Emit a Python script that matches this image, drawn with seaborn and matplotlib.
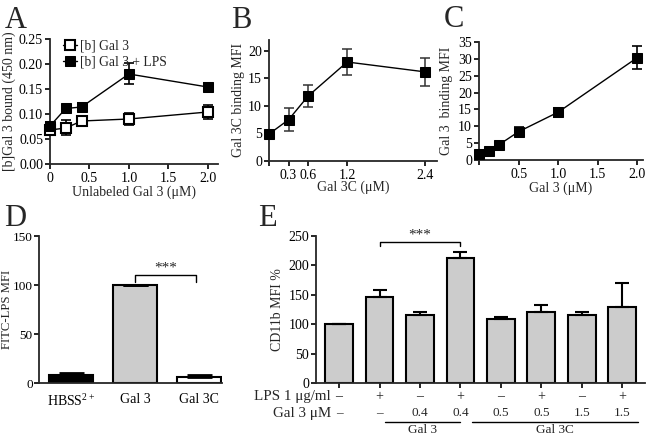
import numpy as np
import pandas as pd
import matplotlib
matplotlib.use("Agg")
import matplotlib.pyplot as plt
import seaborn as sns

# ---------------- data ----------------
a_x = [0.0, 0.2, 0.4, 1.0, 2.0]
a_gal3 = [0.068, 0.072, 0.086, 0.090, 0.104]
a_gal3_err = [0.005, 0.015, 0.005, 0.012, 0.014]
a_gal3_lps = [0.076, 0.111, 0.114, 0.180, 0.154]
a_gal3_lps_err = [0.008, 0.004, 0.008, 0.021, 0.007]

b_x = [0.0, 0.3, 0.6, 1.2, 2.4]
b_y = [4.9, 7.5, 11.8, 18.0, 16.2]
b_err = [0.3, 2.1, 2.0, 2.4, 2.5]

c_x = [0.0, 0.125, 0.25, 0.5, 1.0, 2.0]
c_y = [1.8, 2.6, 4.5, 8.4, 14.2, 30.4]
c_err = [0.5, 1.0, 0.8, 1.3, 1.3, 3.3]

d_cats = ["HBSS$^{2+}$", "Gal 3", "Gal 3C"]
d_vals = [8.5, 100.0, 6.5]
d_err = [1.5, 0.5, 2.0]
d_colors = ["black", "#cccccc", "white"]

e_vals = [100, 147, 115, 213, 108, 120, 115, 129]
e_err = [0, 12, 5, 10, 4, 13, 5, 41]
e_lps = ["–", "+", "–", "+", "–", "+", "–", "+"]
e_gal = ["–", "–", "0.4", "0.4", "0.5", "0.5", "1.5", "1.5"]

# ---------------- style ----------------
sns.set_style("ticks")
plt.rcParams["font.family"] = ["Liberation Serif", "DejaVu Serif"]
plt.rcParams["mathtext.fontset"] = "custom"
plt.rcParams["mathtext.rm"] = "Liberation Serif"
plt.rcParams["mathtext.it"] = "Liberation Serif:italic"
plt.rcParams["axes.linewidth"] = 1.3
plt.rcParams["xtick.major.width"] = 1.2
plt.rcParams["ytick.major.width"] = 1.2
plt.rcParams["xtick.major.size"] = 3.5
plt.rcParams["ytick.major.size"] = 3.5
plt.rcParams["xtick.labelsize"] = 10
plt.rcParams["ytick.labelsize"] = 10
plt.rcParams["axes.labelsize"] = 10
plt.rcParams["xtick.major.pad"] = 2
plt.rcParams["ytick.major.pad"] = 1.5

W, H = 649, 436
fig = plt.figure(figsize=(W / 100, H / 100), dpi=100)


def add_ax(l, r, t, b):
    return fig.add_axes([l / W, 1 - b / H, (r - l) / W, (b - t) / H])


def clean(ax):
    sns.despine(ax=ax)
    ax.tick_params(colors="black", direction="out")


def letter(x, y, s):
    fig.text(x / W, 1 - y / H, s, fontsize=22, va="baseline", ha="left")


# ---------------- Panel A ----------------
axA = add_ax(50, 218, 39, 164)
dfA = pd.DataFrame({"x": a_x * 2,
                    "y": a_gal3 + a_gal3_lps,
                    "s": ["[b] Gal 3"] * 5 + ["[b] Gal 3 + LPS"] * 5})
sns.lineplot(data=dfA[dfA.s == "[b] Gal 3"], x="x", y="y", ax=axA, color="black",
             marker="s", markersize=6.5, markerfacecolor="white", markeredgecolor="black",
             markeredgewidth=1.5, lw=1, label="[b] Gal 3", clip_on=False, zorder=3)
sns.lineplot(data=dfA[dfA.s == "[b] Gal 3 + LPS"], x="x", y="y", ax=axA, color="black",
             marker="s", markersize=6.5, markerfacecolor="black", markeredgecolor="black",
             lw=1, label="[b] Gal 3 + LPS", clip_on=False, zorder=3)
axA.errorbar(a_x, a_gal3, yerr=a_gal3_err, fmt="none", ecolor="black", elinewidth=1.2,
             capsize=3.5, capthick=1.2, clip_on=False)
axA.errorbar(a_x, a_gal3_lps, yerr=a_gal3_lps_err, fmt="none", ecolor="black",
             elinewidth=1.2, capsize=3.5, capthick=1.2, clip_on=False)
axA.set_xlim(0, 2.13)
axA.set_ylim(0, 0.25)
axA.set_xticks([0, 0.5, 1.0, 1.5, 2.0])
axA.set_xticklabels(["0", "0.5", "1.0", "1.5", "2.0"])
axA.set_yticks(np.arange(0, 0.26, 0.05))
axA.set_yticklabels([f"{v:.2f}" for v in np.arange(0, 0.26, 0.05)])
axA.set_xlabel("Unlabeled Gal 3 (μM)")
axA.set_ylabel("[b]Gal 3 bound (450 nm)")
axA.xaxis.set_label_coords(0.5, -0.17)
axA.xaxis.label.set_va("top")
axA.yaxis.set_label_coords(-0.205, 0.5)
leg = axA.legend(loc="upper left", bbox_to_anchor=(0.03, 1.06), frameon=False,
                 handlelength=1.0, handletextpad=0.2, borderpad=0.1, labelspacing=0.2,
                 fontsize=9.8)
clean(axA)
letter(5, 28, "A")

# ---------------- Panel B ----------------
axB = add_ax(269, 437, 40, 161)
dfB = pd.DataFrame({"x": b_x, "y": b_y})
sns.lineplot(data=dfB, x="x", y="y", ax=axB, color="black", marker="s", markersize=6.5,
             markeredgecolor="black", lw=1, clip_on=False, zorder=3)
axB.errorbar(b_x, b_y, yerr=b_err, fmt="none", ecolor="#333333", elinewidth=1.1,
             capsize=3.5, capthick=1.1, clip_on=False)
axB.set_xlim(0, 2.58)
axB.set_ylim(0, 22)
axB.set_xticks([0, 0.3, 0.6, 1.2, 2.4])
axB.set_xticklabels(["", "0.3", "0.6", "1.2", "2.4"])
axB.set_yticks([0, 5, 10, 15, 20])
axB.set_xlabel("Gal 3C (μM)")
axB.set_ylabel("Gal 3C binding MFI")
axB.xaxis.set_label_coords(0.5, -0.16)
axB.xaxis.label.set_va("top")
axB.yaxis.set_label_coords(-0.143, 0.5)
clean(axB)
letter(231, 28, "B")

# ---------------- Panel C ----------------
axC = add_ax(479, 643, 42, 160)
dfC = pd.DataFrame({"x": c_x, "y": c_y})
sns.lineplot(data=dfC, x="x", y="y", ax=axC, color="black", marker="s", markersize=7,
             markeredgecolor="black", lw=1, clip_on=False, zorder=3)
axC.errorbar(c_x, c_y, yerr=c_err, fmt="none", ecolor="black", elinewidth=1.2,
             capsize=3.5, capthick=1.2, clip_on=False)
axC.set_xlim(0, 2.07)
axC.set_ylim(0, 35)
axC.set_xticks([0, 0.5, 1.0, 1.5, 2.0])
axC.set_xticklabels(["", "0.5", "1.0", "1.5", "2.0"])
axC.set_yticks(np.arange(0, 36, 5))
axC.set_xlabel("Gal 3 (μM)")
axC.set_ylabel("Gal 3  binding MFI")
axC.xaxis.set_label_coords(0.5, -0.18)
axC.xaxis.label.set_va("top")
axC.yaxis.set_label_coords(-0.16, 0.5)
clean(axC)
letter(444, 27, "C")

# ---------------- Panel D ----------------
axD = add_ax(39, 222, 236, 383)
dfD = pd.DataFrame({"cat": d_cats, "val": d_vals})
sns.barplot(data=dfD, x="cat", y="val", ax=axD, width=0.69, errorbar=None,
            palette=d_colors, hue="cat", legend=False, edgecolor="black", linewidth=1.5)
axD.errorbar(range(3), d_vals, yerr=[[0] * 3, d_err], fmt="none", ecolor="black",
             elinewidth=1.5, capsize=9, capthick=2)
axD.set_xlim(-0.5, 2.36)
axD.set_ylim(0, 150)
axD.set_yticks([0, 50, 100, 150])
axD.set_xlabel("")
axD.set_ylabel("FITC-LPS MFI", fontsize=9.2)
axD.yaxis.set_label_coords(-0.142, 0.5)
clean(axD)
axD.tick_params(axis="y", labelsize=9.5, pad=1)
axD.tick_params(axis="x", length=0, pad=7)
axD.plot([1, 1, 1.95, 1.95], [103, 110, 110, 103], color="black", lw=1, clip_on=False)
axD.text(1.48, 111, "***", ha="center", va="bottom", fontsize=11)
letter(4, 226, "D")

# ---------------- Panel E ----------------
axE = add_ax(316, 645, 236, 383)
dfE = pd.DataFrame({"pos": [str(i) for i in range(8)], "val": e_vals})
sns.barplot(data=dfE, x="pos", y="val", ax=axE, width=0.69, errorbar=None,
            color="#cccccc", edgecolor="black", linewidth=1.5, saturation=1)
axE.errorbar(range(8), e_vals, yerr=[[0] * 8, e_err], fmt="none", ecolor="black",
             elinewidth=1.5, capsize=5, capthick=1.5)
axE.set_xlim(-0.57, 7.56)
axE.set_ylim(0, 250)
axE.set_yticks([0, 50, 100, 150, 200, 250])
axE.set_xticks(range(8))
axE.set_xticklabels([""] * 8)
axE.set_xlabel("")
axE.set_ylabel("CD11b MFI %")
axE.yaxis.set_label_coords(-0.097, 0.5)
clean(axE)
axE.plot([1, 1, 3, 3], [233, 239, 239, 233], color="black", lw=1, clip_on=False)
axE.text(2, 240, "***", ha="center", va="bottom", fontsize=11)

tr = axE.get_xaxis_transform()
r1, r2 = -0.094, -0.207
axE.text(-0.2, r1, "LPS 1 μg/ml", transform=tr, ha="right", va="center", fontsize=10.8)
axE.text(-0.2, r2, "Gal 3 μM", transform=tr, ha="right", va="center", fontsize=10.8)
for i in range(8):
    axE.text(i, r1, e_lps[i], transform=tr, ha="center", va="center", fontsize=10)
    axE.text(i, r2, e_gal[i], transform=tr, ha="center", va="center", fontsize=9.5)
axE.plot([1.14, 2.99], [-0.265, -0.265], transform=tr, color="black", lw=1, clip_on=False)
axE.plot([3.28, 7.38], [-0.265, -0.265], transform=tr, color="black", lw=1, clip_on=False)
axE.text(2.07, -0.318, "Gal 3", transform=tr, ha="center", va="center", fontsize=9.5)
axE.text(5.33, -0.318, "Gal 3C", transform=tr, ha="center", va="center", fontsize=9.5)
letter(258, 226, "E")

fig.savefig("out.png", dpi=100)
